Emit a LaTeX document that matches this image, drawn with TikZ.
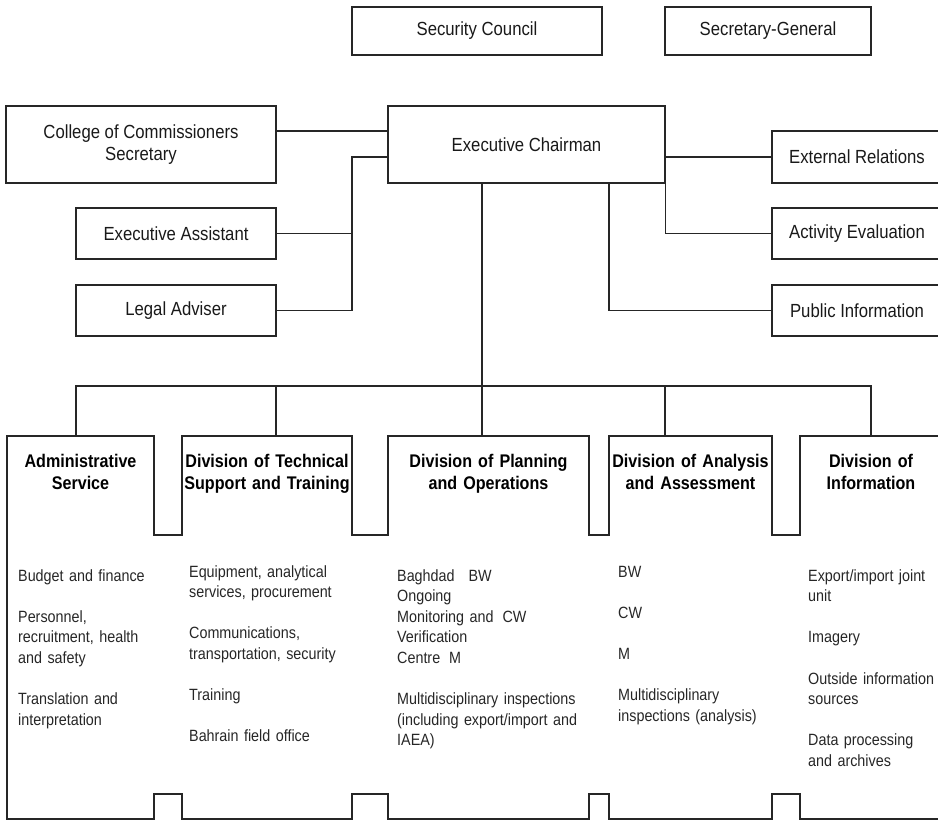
\documentclass[tikz,border=0pt]{standalone}
\usepackage{fontspec}
\setmainfont{Liberation Sans}[FakeStretch=0.88]
\begin{document}
\begin{tikzpicture}[x=1pt,y=-1pt,
  wire/.style={draw=black!85, line width=1.3pt},
  box/.style={wire, rectangle, inner sep=0pt, align=center, text=black!90,
    font=\fontsize{19}{22}\selectfont},
  head/.style={anchor=base, inner sep=0pt, text width=170pt, align=center,
    font=\bfseries\fontsize{18.3}{22.5}\selectfont},
  items/.style={anchor=base west, inner sep=0pt, text width=200pt, align=left,
    text=black!85, font=\fontsize{16.3}{20.6}\selectfont}]

\path[use as bounding box] (0,0) rectangle (938,820);
\clip (0,0) rectangle (938,820);

% oversight bodies
\node[box, minimum width=250pt, minimum height=48pt] (sc) at (477,31) {Security Council};
\node[box, minimum width=206pt, minimum height=48pt] (sg) at (768,31) {Secretary-General};

% executive level
\node[box, minimum width=277pt, minimum height=77pt] (ec) at (526.5,144.5) {Executive Chairman};
\node[box, minimum width=270pt, minimum height=77pt] (col) at (141,144.5) {College of Commissioners\\Secretary};
\node[box, minimum width=200pt, minimum height=51pt] (ea) at (176,233.5) {Executive Assistant};
\node[box, minimum width=200pt, minimum height=51pt] (la) at (176,310.5) {Legal Adviser};
\node[box, minimum width=170pt, minimum height=52pt] (ext) at (857,157) {External Relations};
\node[box, minimum width=170pt, minimum height=51pt] (ae) at (857,233.5) {Activity Evaluation};
\node[box, minimum width=170pt, minimum height=51pt] (pi) at (857,310.5) {Public Information};

% staff connectors
\draw[wire] ([yshift=13.5pt]col.east) -- ([yshift=13.5pt]ec.west);
\draw[wire] (ext.west) -- (ext.west -| ec.east);
\coordinate (lbar) at (352,200);
\draw[wire] ([yshift=-12.5pt]ec.west) -| (la.east -| lbar) -- (la.east);
\draw[wire] (ea.east) -- (ea.east -| lbar);
\draw[wire] (ec.south east) |- (ae.west);
\draw[wire] ([xshift=82.5pt]ec.south) |- (pi.west);

% division block outline with notches between the divisions
\draw[wire, line join=miter]
  (7,436) -- (154,436) -- (154,535) -- (182,535) -- (182,436)
  -- (352,436) -- (352,535) -- (388,535) -- (388,436)
  -- (589,436) -- (589,535) -- (609,535) -- (609,436)
  -- (772,436) -- (772,535) -- (800,535) -- (800,436)
  -- (942,436) -- (942,819)
  -- (800,819) -- (800,794) -- (772,794) -- (772,819)
  -- (609,819) -- (609,794) -- (589,794) -- (589,819)
  -- (388,819) -- (388,794) -- (352,794) -- (352,819)
  -- (182,819) -- (182,794) -- (154,794) -- (154,819)
  -- (7,819) -- cycle;

% tops of the divisions
\coordinate (t1) at (76,436);
\coordinate (t2) at (276,436);
\coordinate (t3) at (482,436);
\coordinate (t4) at (665,436);
\coordinate (t5) at (871,436);
\coordinate (bus) at (482,386);

% line of command to the divisions
\draw[wire] ([xshift=-44.5pt]ec.south) -- (bus) -- (t3);
\draw[wire] (t1) -- (t1 |- bus) -- (t5 |- bus) -- (t5);
\draw[wire] (t2) -- (t2 |- bus);
\draw[wire] (t4) -- (t4 |- bus);

% division headings
\node[head] (d1) at (80.5,467) {Administrative\\Service};
\node[head] (d2) at (267,467) {Division of Technical\\Support and Training};
\node[head] (d3) at (488.5,467) {Division of Planning\\and Operations};
\node[head] (d4) at (690.5,467) {Division of Analysis\\and Assessment};
\node[head] (d5) at (871,467) {Division of\\Information};

% division units
\node[items] (u1) at (18,581) {Budget and finance\\[20.6pt]Personnel,\\recruitment, health\\and safety\\[20.6pt]Translation and\\interpretation};
\node[items] (u2) at (189,577) {Equipment, analytical\\services, procurement\\[20.6pt]Communications,\\transportation, security\\[20.6pt]Training\\[20.6pt]Bahrain field office};
\node[items] (u3) at (397,581) {Baghdad\hspace{14pt}BW\\Ongoing\\Monitoring and\hspace{9pt}CW\\Verification\\Centre\hspace{9pt}M\\[20.6pt]Multidisciplinary inspections\\(including export/import and\\IAEA)};
\node[items] (u4) at (618,577) {BW\\[20.6pt]CW\\[20.6pt]M\\[20.6pt]Multidisciplinary\\inspections (analysis)};
\node[items] (u5) at (808,581) {Export/import joint\\unit\\[20.6pt]Imagery\\[20.6pt]Outside information\\sources\\[20.6pt]Data processing\\and archives};
\end{tikzpicture}
\end{document}
